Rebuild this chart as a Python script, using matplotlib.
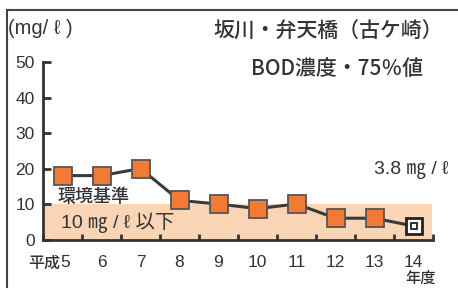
import matplotlib
matplotlib.use("Agg")
import matplotlib.pyplot as plt
from matplotlib.lines import Line2D

plt.rcParams['font.family'] = ['Noto Sans CJK JP', 'DejaVu Sans']
NUM = ['Liberation Sans', 'Noto Sans CJK JP']
MW = 'medium'

years = ['5', '6', '7', '8', '9', '10', '11', '12', '13', '14']
era_prefix = '平成'
bod = [18, 18, 20, 11, 10, 8.7, 10, 6, 6, 3.8]
standard = 10
yticks = [0, 10, 20, 30, 40, 50]

W, H = 458, 290
fig = plt.figure(figsize=(W / 100, H / 100), dpi=100)
fig.patch.set_facecolor('white')

ax = fig.add_axes([43 / W, (H - 239.5) / H, 390 / W, 177.5 / H])
ax.set_facecolor('none')
x = list(range(len(years)))
ax.set_xlim(-0.5, len(years) - 0.5)
ax.set_ylim(0, 50)

ax.axhspan(0, standard, xmin=0, xmax=0.997, color='#f9d5b6', zorder=0, lw=0)

ax.plot(x, bod, color='#3a3a3a', lw=2.2, zorder=2)
ax.plot(x[:-1], bod[:-1], ls='none', marker='s', ms=12.5, mfc='#f27a34',
        mec='#555555', mew=1.3, zorder=3)
ax.plot(x[-1:], bod[-1:], ls='none', marker='s', ms=12, mfc='white',
        mec='#222222', mew=2.0, zorder=3)
ax.plot(x[-1:], bod[-1:], ls='none', marker='s', ms=4.5, mfc='white',
        mec='#222222', mew=1.3, zorder=4)

for s in ['top', 'right']:
    ax.spines[s].set_visible(False)
for s in ['left', 'bottom']:
    ax.spines[s].set_color('#333333')
    ax.spines[s].set_linewidth(2.0)

ax.set_yticks(yticks)
ax.set_yticklabels([str(v) for v in yticks], family=NUM)
ax.tick_params(axis='y', direction='in', length=6, width=2, color='#333333',
               labelsize=12.5, labelcolor='#333333', pad=6)
ax.set_xticks([i - 0.5 for i in range(len(years) + 1)])
ax.set_xticklabels([])
ax.tick_params(axis='x', direction='in', length=4, width=2, color='#333333')
for i, lab in enumerate(years):
    ax.text(i + (0.06 if i == 0 else 0), -6.6, lab, ha='center', va='center',
            fontsize=12.5, color='#333333', family=NUM, clip_on=False)
ax.text(-0.07, -6.6, era_prefix, ha='right', va='center', fontsize=11.5,
        color='#333333', fontweight=MW, clip_on=False)
ax.text(len(years) - 1 + 0.18, -11.0, '年度', ha='center', va='center', fontsize=11,
        color='#333333', fontweight=MW, clip_on=False)

fig.text(8 / W, 1 - 29 / H, '(mg/ ℓ )', ha='left', va='center', fontsize=14.5,
         color='#333333', family=NUM)
fig.text(328 / W, 1 - 32 / H, '坂川・弁天橋（古ケ崎）', ha='center', va='center',
         fontsize=15, color='#333333', fontweight=MW)
fig.text(337 / W, 1 - 69 / H, 'BOD濃度・75％値', ha='center', va='center',
         fontsize=15, color='#333333', fontweight=MW)
fig.text(448 / W, 1 - 170 / H, '3.8 ㎎ / ℓ', ha='right', va='center',
         fontsize=14, color='#333333', family=NUM)
fig.text(57 / W, 1 - 197 / H, '環境基準', ha='left', va='center', fontsize=13,
         color='#333333', fontweight=MW)
fig.text(61 / W, 1 - 223 / H, '10 ㎎ / ℓ 以下', ha='left', va='center', fontsize=14,
         color='#333333', family=NUM)

fig.add_artist(Line2D([7 / W, 1], [1 - 10 / H, 1 - 10 / H], color='#444444', lw=1.5))
fig.add_artist(Line2D([7 / W, 7 / W], [1 - 10 / H, 1 - 287 / H], color='#444444', lw=1.5))

fig.savefig('out.png', dpi=100, facecolor='white')
